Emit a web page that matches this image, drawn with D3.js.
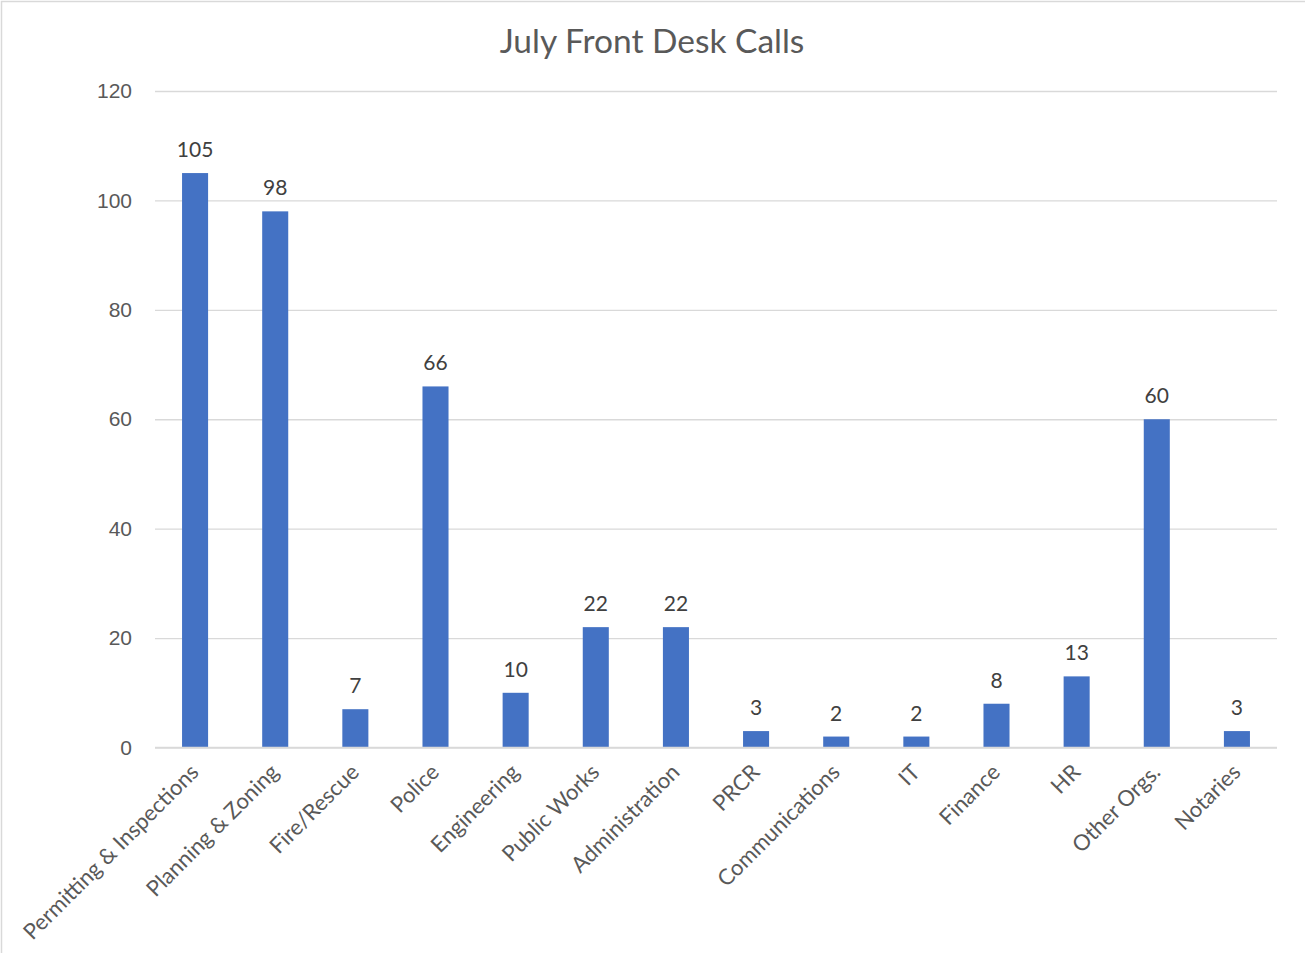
<!DOCTYPE html>
<html>
<head>
<meta charset="utf-8">
<script src="https://cdn.jsdelivr.net/npm/d3@7"></script>
<style>
    body { margin: 0; background: #fff; }
    svg { display: block; font-family: Lato, "Open Sans", sans-serif; }
</style>
</head>
<body>
<script>
(function () {

    let categories = ["Permitting & Inspections", "Planning & Zoning", "Fire/Rescue", "Police",
        "Engineering", "Public Works", "Administration", "PRCR", "Communications", "IT",
        "Finance", "HR", "Other Orgs.", "Notaries"];
    let calls = [105, 98, 7, 66, 10, 22, 22, 3, 2, 2, 8, 13, 60, 3];
    let yTicks = [0, 20, 40, 60, 80, 100, 120];

    let width = 1305,
        height = 953;

    //plot area
    let margin = {left: 155, right: 28, top: 91, bottom: 205};

    const svg = d3.select("body")
        .append("svg")
        .attr("width", width)
        .attr("height", height);

    //light chart frame
    svg.append("rect")
        .attr("x", 1.5)
        .attr("y", 1.5)
        .attr("width", width + 10)
        .attr("height", height + 10)
        .attr("fill", "none")
        .attr("stroke", "#d9d9d9")
        .attr("stroke-width", 1.5);

    const x = d3.scaleBand()
        .domain(categories)
        .range([margin.left, width - margin.right])
        .paddingInner(0.675)
        .paddingOuter(0.3375);

    const y = d3.scaleLinear()
        .domain([0, 120])
        .range([height - margin.bottom - 0.5, margin.top]);

    //gridlines + y labels
    const yAxis = svg.append("g")
        .attr("transform", "translate(" + margin.left + ",0)")
        .call(d3.axisLeft(y).tickValues(yTicks).tickSize(-(width - margin.left - margin.right)).tickPadding(23));
    yAxis.select(".domain").remove();
    yAxis.selectAll(".tick line").attr("stroke", "#d9d9d9").attr("stroke-width", 1.3);
    yAxis.selectAll(".tick text")
        .attr("fill", "#595959")
        .style("font-size", "21px");

    //bars
    svg.selectAll(".bars")
        .data(calls)
        .enter()
        .append("rect")
        .attr("class", "bars")
        .attr("x", function (d, i) { return x(categories[i]); })
        .attr("width", x.bandwidth())
        .attr("y", function (d) { return y(d); })
        .attr("height", function (d) { return y(0) - y(d); })
        .attr("fill", "#4472c4");

    //value labels
    svg.selectAll(".numbers")
        .data(calls)
        .enter()
        .append("text")
        .attr("class", "numbers")
        .attr("x", function (d, i) { return x(categories[i]) + x.bandwidth() / 2; })
        .attr("y", function (d) { return y(d) - 16; })
        .attr("text-anchor", "middle")
        .attr("fill", "#404040")
        .style("font-size", "21px")
        .text(function (d) { return d; });

    //x axis line
    svg.append("line")
        .attr("x1", margin.left)
        .attr("x2", width - margin.right)
        .attr("y1", y(0))
        .attr("y2", y(0))
        .attr("stroke", "#d9d9d9")
        .attr("stroke-width", 1.5);

    //rotated category labels
    svg.selectAll(".cats")
        .data(categories)
        .enter()
        .append("text")
        .attr("class", "cats")
        .attr("text-anchor", "end")
        .attr("fill", "#595959")
        .style("font-size", "22px")
        .attr("transform", function (d) {
            let cx = x(d) + x.bandwidth() / 2 + 5;
            return "translate(" + cx + "," + (y(0) + 26) + ") rotate(-45)";
        })
        .text(function (d) { return d; });

    svg.append("text")
        .attr("x", 652)
        .attr("y", 53)
        .attr("text-anchor", "middle")
        .attr("fill", "#595959")
        .style("font-size", "33.5px")
        .text("July Front Desk Calls");

})();
</script>
</body>
</html>
